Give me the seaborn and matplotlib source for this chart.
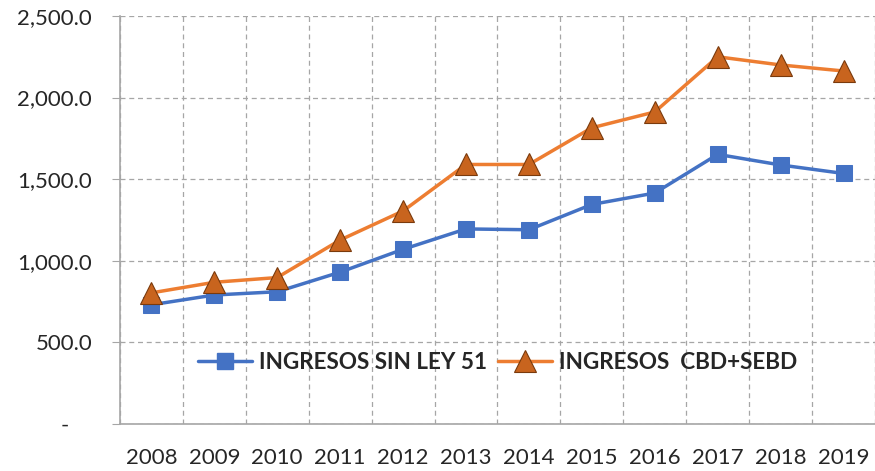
import pandas as pd
import matplotlib.pyplot as plt
import matplotlib.ticker as mticker
import seaborn as sns

years = ["2008", "2009", "2010", "2011", "2012", "2013", "2014", "2015", "2016", "2017", "2018", "2019"]
sin_ley = [730, 790, 810, 930, 1070, 1195, 1190, 1345, 1415, 1652, 1587, 1535]
cbd_sebd = [803, 868, 897, 1127, 1305, 1590, 1590, 1815, 1912, 2250, 2200, 2163]
label_a = "INGRESOS SIN LEY 51"
label_b = "INGRESOS  CBD+SEBD"

df = pd.DataFrame({
    "year": years * 2,
    "value": sin_ley + cbd_sebd,
    "serie": [label_a] * len(years) + [label_b] * len(years),
})

sns.set_style("white")
plt.rcParams['font.family'] = ['Lato', 'DejaVu Sans']

fig = plt.figure(figsize=(8.75, 4.71), dpi=100)
ax = fig.add_axes([0.137, 0.1, 0.863, 0.866])

sns.lineplot(data=df, x="year", y="value", hue="serie", style="serie",
             markers={label_a: "s", label_b: "^"}, dashes=False,
             palette={label_a: "#4472C4", label_b: "#ED7D31"},
             linewidth=2.5, markersize=12, ax=ax, legend=False)

# triangle markers are brownish with a dark edge, squares plain blue
lines = ax.get_lines()
lines[0].set_markerfacecolor("#4472C4")
lines[0].set_markeredgecolor("#4472C4")
lines[1].set_markerfacecolor("#C8641E")
lines[1].set_markeredgecolor("#7A3A0C")
lines[1].set_markersize(16)
lines[1].set_markeredgewidth(0.8)

ax.set_xlim(-0.5, 11.5)
ax.set_ylim(0, 2500)
ax.yaxis.set_major_locator(mticker.MultipleLocator(500))
ax.yaxis.set_major_formatter(mticker.FuncFormatter(lambda v, p: "-    " if v == 0 else f"{v:,.1f}"))
ax.xaxis.set_minor_locator(mticker.FixedLocator([i + 0.5 for i in range(-1, 12)]))

ax.grid(False)
ax.grid(axis="y", which="major", linestyle=(0, (4, 3)), color="#a6a6a6", linewidth=0.9)
ax.grid(axis="x", which="minor", linestyle=(0, (4, 3)), color="#a6a6a6", linewidth=0.9)

for s in ["top", "right"]:
    ax.spines[s].set_visible(False)
for s in ["left", "bottom"]:
    ax.spines[s].set_color("#a6a6a6")
    ax.spines[s].set_linewidth(1.2)

ax.tick_params(axis="x", which="major", length=0, pad=17, labelsize=16, labelcolor="#262626")
ax.tick_params(axis="x", which="minor", length=6, color="#a6a6a6", direction="out")
ax.tick_params(axis="y", which="major", length=6, color="#a6a6a6", direction="out",
               pad=14, labelsize=16, labelcolor="#262626", left=True)
ax.set_xlabel("")
ax.set_ylabel("")

# legend built from the plotted lines
handles = [plt.Line2D([], [], color="#4472C4", linewidth=2.5, marker="s", markersize=12),
           plt.Line2D([], [], color="#ED7D31", linewidth=2.5, marker="^", markersize=16,
                      markerfacecolor="#C8641E", markeredgecolor="#7A3A0C", markeredgewidth=0.8)]
leg = ax.legend(handles, [label_a, label_b], loc="center", bbox_to_anchor=(0.5, 0.15),
                ncol=2, frameon=False, handlelength=2.4, handletextpad=0.3, columnspacing=0.5,
                prop={"weight": "bold", "size": 16.2})

fig.savefig("out.png", dpi=100)
